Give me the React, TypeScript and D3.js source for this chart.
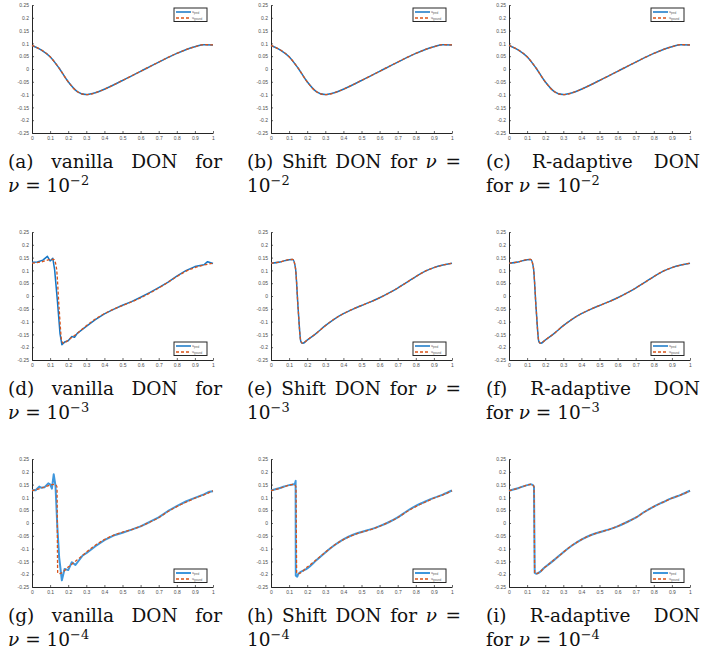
import React, { useEffect, useRef } from 'react';
import * as d3 from 'd3';

const W = 701;
const H = 652;

// axis ticks, same on every panel
const xTicks = [0, 0.1, 0.2, 0.3, 0.4, 0.5, 0.6, 0.7, 0.8, 0.9, 1];
const xTickLabels = ['0', '0.1', '0.2', '0.3', '0.4', '0.5', '0.6', '0.7', '0.8', '0.9', '1'];
const yTicks = [-0.25, -0.2, -0.15, -0.1, -0.05, 0, 0.05, 0.1, 0.15, 0.2, 0.25];
const yTickLabels = ['-0.25', '-0.2', '-0.15', '-0.1', '-0.05', '0', '0.05', '0.1', '0.15', '0.2', '0.25'];

// nu = 1e-2 : all three models sit on the ground truth
const x2 = [0, 0.05, 0.1, 0.15, 0.2, 0.25, 0.3, 0.35, 0.4, 0.5, 0.6, 0.7, 0.8, 0.9, 0.95, 1];
const truth2 = [0.092, 0.075, 0.048, 0.003, -0.05, -0.088, -0.1, -0.093, -0.079, -0.045, -0.009, 0.027, 0.061, 0.087, 0.095, 0.094];

// nu = 1e-3
const x3 = [0, 0.05, 0.1, 0.12, 0.135, 0.15, 0.165, 0.175, 0.2, 0.25, 0.3, 0.35, 0.4, 0.45, 0.5, 0.55, 0.6, 0.65, 0.7, 0.75, 0.8, 0.85, 0.9, 0.95, 1];
const truth3 = [0.128, 0.133, 0.142, 0.143, 0.11, -0.05, -0.178, -0.185, -0.172, -0.146, -0.116, -0.09, -0.069, -0.052, -0.037, -0.023, -0.007, 0.011, 0.031, 0.053, 0.076, 0.096, 0.111, 0.121, 0.128];
const xVanilla3 = [0, 0.03, 0.06, 0.085, 0.1, 0.115, 0.125, 0.14, 0.155, 0.165, 0.18, 0.2, 0.22, 0.235, 0.25, 0.3, 0.35, 0.4, 0.45, 0.5, 0.55, 0.6, 0.65, 0.7, 0.75, 0.8, 0.85, 0.9, 0.95, 0.97, 1];
const predVanilla3 = [0.132, 0.133, 0.14, 0.155, 0.137, 0.147, 0.103, -0.016, -0.148, -0.19, -0.18, -0.175, -0.158, -0.161, -0.146, -0.119, -0.092, -0.07, -0.052, -0.036, -0.022, -0.005, 0.013, 0.033, 0.053, 0.078, 0.099, 0.115, 0.122, 0.134, 0.127];

// nu = 1e-4
const x4 = [0, 0.05, 0.1, 0.12, 0.135, 0.138, 0.142, 0.15, 0.2, 0.25, 0.3, 0.35, 0.4, 0.45, 0.5, 0.55, 0.6, 0.65, 0.7, 0.75, 0.8, 0.85, 0.9, 0.95, 1];
const truth4 = [0.126, 0.136, 0.148, 0.151, 0.146, 0.14, -0.195, -0.198, -0.172, -0.144, -0.114, -0.087, -0.065, -0.048, -0.036, -0.026, -0.013, 0.003, 0.021, 0.044, 0.064, 0.081, 0.097, 0.11, 0.126];
const xVanilla4 = [0, 0.02, 0.04, 0.05, 0.07, 0.09, 0.1, 0.11, 0.12, 0.13, 0.14, 0.15, 0.165, 0.18, 0.2, 0.22, 0.24, 0.28, 0.3, 0.35, 0.4, 0.45, 0.5, 0.55, 0.6, 0.65, 0.7, 0.75, 0.8, 0.85, 0.9, 0.95, 0.98, 1];
const predVanilla4 = [0.128, 0.128, 0.142, 0.138, 0.14, 0.155, 0.151, 0.134, 0.19, 0.144, -0.015, -0.134, -0.224, -0.18, -0.184, -0.153, -0.164, -0.127, -0.118, -0.091, -0.067, -0.049, -0.038, -0.026, -0.013, 0.004, 0.022, 0.046, 0.066, 0.084, 0.098, 0.112, 0.122, 0.124];
const xShift4 = [0, 0.05, 0.1, 0.125, 0.132, 0.136, 0.137, 0.145, 0.15, 0.2, 0.25, 0.3, 0.35, 0.4, 0.45, 0.5, 0.55, 0.6, 0.65, 0.7, 0.75, 0.8, 0.85, 0.9, 0.95, 1];
const predShift4 = [0.127, 0.137, 0.148, 0.151, 0.152, 0.165, -0.205, -0.21, -0.2, -0.178, -0.146, -0.115, -0.087, -0.064, -0.047, -0.035, -0.025, -0.012, 0.003, 0.022, 0.046, 0.067, 0.083, 0.098, 0.111, 0.127];

const methods = ['vanilla', 'Shift', 'R-adaptive'];
const exponents = ['2', '3', '4'];
const letters = ['a', 'b', 'c', 'd', 'e', 'f', 'g', 'h', 'i'];

type Pt = [number, number];
const zip = (xs: number[], ys: number[]): Pt[] => xs.map((x, i) => [x, ys[i]]);

const rows = [
  { truth: zip(x2, truth2), preds: [zip(x2, truth2), zip(x2, truth2), zip(x2, truth2)], legendTop: true },
  { truth: zip(x3, truth3), preds: [zip(xVanilla3, predVanilla3), zip(x3, truth3), zip(x3, truth3)], legendTop: false },
  { truth: zip(x4, truth4), preds: [zip(xVanilla4, predVanilla4), zip(xShift4, predShift4), zip(x4, truth4)], legendTop: false },
];

// layout
const colX = [32, 271, 509];
const rowY = [5, 232, 459];
const plotW = 181;
const plotH = 128;
const capX = [8, 247, 486];
const capW = 214;

const BLUE = ['#1476c6', '#1476c6', '#3f97dc'];
const ORANGE = '#d95319';
const AXIS = '#262626';
const SERIF = '"DejaVu Serif", "Liberation Serif", serif';
const CAP_SIZE = 18.5;

type Part = { t: string; it?: boolean; sup?: boolean };

function addParts(text: d3.Selection<SVGTextElement, unknown, null, undefined>, parts: Part[]) {
  parts.forEach(p => {
    const ts = text.append('tspan').text(p.t);
    if (p.it) ts.attr('font-style', 'italic');
    if (p.sup) ts.attr('font-size', CAP_SIZE * 0.7).attr('dy', -7);
  });
}

export default function App() {
  const svgRef = useRef<SVGSVGElement>(null);

  useEffect(() => {
    if (!svgRef.current) return;
    const svg = d3.select(svgRef.current);
    svg.selectAll('*').remove();

    const x = d3.scaleLinear().domain([0, 1]).range([0, plotW]);
    const y = d3.scaleLinear().domain([-0.25, 0.25]).range([plotH, 0]);
    const smooth = d3.line<Pt>().x(d => x(d[0])).y(d => y(d[1])).curve(d3.curveMonotoneX);
    const rough = d3.line<Pt>().x(d => x(d[0])).y(d => y(d[1]));

    rows.forEach((row, r) => {
      methods.forEach((method, c) => {
        const g = svg.append('g').attr('transform', `translate(${colX[c]},${rowY[r]})`);

        // axes, ticks pointing inward like MATLAB
        const ax = g.append('g').attr('transform', `translate(0,${plotH})`)
          .call(d3.axisBottom(x).tickValues(xTicks).tickSize(-2).tickSizeOuter(0).tickPadding(3)
            .tickFormat((_, i) => xTickLabels[i]));
        const ay = g.append('g')
          .call(d3.axisLeft(y).tickValues(yTicks).tickSize(-2).tickSizeOuter(0).tickPadding(3)
            .tickFormat((_, i) => yTickLabels[i]));
        [ax, ay].forEach(a => {
          a.select('.domain').attr('stroke', AXIS).attr('stroke-width', 1);
          a.selectAll('.tick line').attr('stroke', AXIS).attr('stroke-width', 0.7);
          a.selectAll('.tick text').attr('fill', '#4d4d4d').attr('font-size', 5)
            .attr('font-family', '"Liberation Sans", Arial, sans-serif');
        });

        // prediction then ground truth on top
        const predLine = c === 0 && r > 0 ? rough : smooth;
        g.append('path').datum(row.preds[c]).attr('d', predLine)
          .attr('fill', 'none').attr('stroke', BLUE[r]).attr('stroke-width', r === 2 ? 2 : 1.5)
          .attr('stroke-linejoin', 'round');
        g.append('path').datum(row.truth).attr('d', smooth)
          .attr('fill', 'none').attr('stroke', ORANGE).attr('stroke-width', 1.3)
          .attr('stroke-dasharray', '3,2');

        // legend
        const lx = plotW - 39;
        const ly = row.legendTop ? 3 : plotH - 18;
        const lg = g.append('g').attr('transform', `translate(${lx},${ly})`);
        lg.append('rect').attr('width', 33).attr('height', 13.5)
          .attr('fill', '#fff').attr('stroke', AXIS).attr('stroke-width', 1);
        const entries = [
          { sub: 'pred', color: BLUE[r], dash: null, w: r === 2 ? 2 : 1.5 },
          { sub: 'ground', color: ORANGE, dash: '3,2', w: 1.3 },
        ];
        entries.forEach((e, i) => {
          const yy = 4 + i * 6;
          lg.append('line').attr('x1', 2).attr('x2', 17).attr('y1', yy).attr('y2', yy)
            .attr('stroke', e.color).attr('stroke-width', e.w)
            .attr('stroke-dasharray', e.dash);
          const t = lg.append('text').attr('x', 18).attr('y', yy + 1.2)
            .attr('font-size', 3.6).attr('fill', '#555')
            .attr('font-family', '"Liberation Sans", Arial, sans-serif');
          t.append('tspan').text('u');
          t.append('tspan').attr('font-size', 2.6).attr('dy', 0.8).text(e.sub);
        });

        // caption, first line justified
        const idx = r * 3 + c;
        const label = `(${letters[idx]})`;
        const nu: Part = { t: 'ν', it: true };
        const sup: Part = { t: `−${exponents[r]}`, sup: true };
        let line1: Part[][];
        let line2: Part[];
        if (c === 0) {
          line1 = [[{ t: label }], [{ t: method }], [{ t: 'DON' }], [{ t: 'for' }]];
          line2 = [nu, { t: ' = 10' }, sup];
        } else if (c === 1) {
          line1 = [[{ t: label }], [{ t: method }], [{ t: 'DON' }], [{ t: 'for' }], [nu], [{ t: '=' }]];
          line2 = [{ t: '10' }, sup];
        } else {
          line1 = [[{ t: label }], [{ t: method }], [{ t: 'DON' }]];
          line2 = [{ t: 'for ' }, nu, { t: ' = 10' }, sup];
        }
        const base1 = 168 + r * 227;
        const base2 = base1 + 24;
        const cap = svg.append('g').attr('font-family', SERIF).attr('font-size', CAP_SIZE).attr('fill', '#111');
        const words = line1.map(parts => {
          const t = cap.append('text').attr('y', base1);
          addParts(t, parts);
          return t;
        });
        const widths = words.map(t => (t.node() as SVGTextElement).getComputedTextLength());
        const gap = (capW - d3.sum(widths)) / (words.length - 1);
        let cx = capX[c];
        words.forEach((t, i) => {
          t.attr('x', cx);
          cx += widths[i] + gap;
        });
        const t2 = cap.append('text').attr('x', capX[c]).attr('y', base2);
        addParts(t2, line2);
      });
    });
  }, []);

  return (
    <svg ref={svgRef} width={W} height={H}
      style={{ position: 'absolute', left: 0, top: 0, background: '#fff' }} />
  );
}
